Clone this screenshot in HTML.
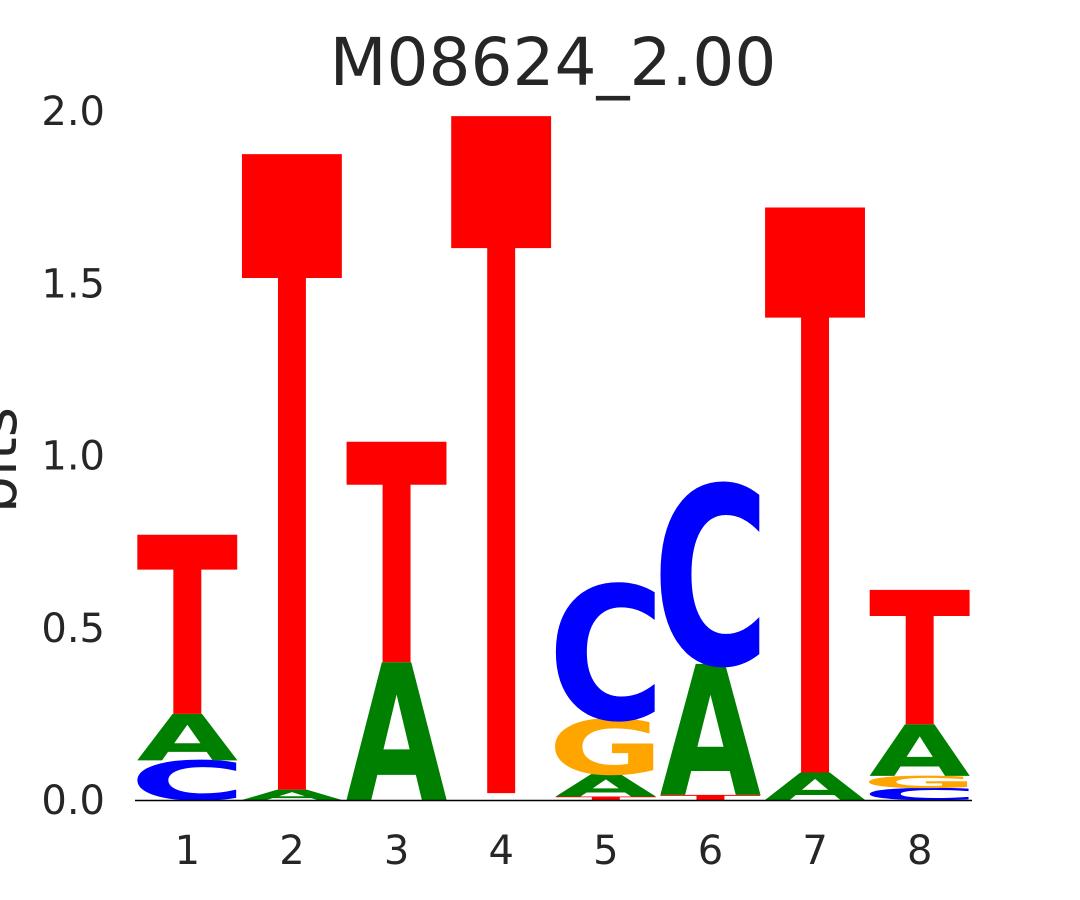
<!DOCTYPE html>
<html><head><meta charset="utf-8"><style>
html,body{margin:0;padding:0;background:#fff;width:1080px;height:900px;overflow:hidden}
svg{display:block}
svg text{font-family:"DejaVu Sans","Liberation Sans",sans-serif}
</style></head><body>
<svg id="chart" width="1080" height="900" viewBox="0 0 1080 900" xmlns="http://www.w3.org/2000/svg" overflow="hidden">
<text x="553" y="85" font-size="66" text-anchor="middle" fill="#262626">M08624_2.00</text>
<text transform="translate(16,460) rotate(-90)" font-size="58" text-anchor="middle" fill="#262626">bits</text>
<g id="yticks"></g><g id="xticks"></g><g id="letters"></g>
<line x1="135" y1="800.5" x2="972" y2="800.5" stroke="#000" stroke-width="1.5"/>
</svg>
<script>
const positions = ["1","2","3","4","5","6","7","8"];
const stackLetters = [
 ["C","A","T"],
 ["A","T"],
 ["A","T"],
 ["-","T"],
 ["T","A","G","C"],
 ["T","A","C"],
 ["A","T"],
 ["C","G","A","T"]
];
const stackHeights = [
 [0.115,0.135,0.52],
 [0.03,1.845],
 [0.40,0.64],
 [0.02,1.965],
 [0.01,0.065,0.16,0.39],
 [0.015,0.38,0.52],
 [0.08,1.64],
 [0.035,0.035,0.15,0.39]
];
const yTickValues = [0,0.5,1,1.5,2];
const yTickLabels = ["0.0","0.5","1.0","1.5","2.0"];
const colors = {A:"#008000",C:"#0000ff",G:"#ffa500",T:"#ff0000"};
const inkFrac = {A:0.98,C:0.85,G:0.86,T:0.98};
const leftFrac = {A:0.01,C:0.07,G:0.07,T:0.01};
const NS="http://www.w3.org/2000/svg";
const y = v => 800 - v*344.5;
const colW = (972-135)/positions.length;
const xc = i => 135 + colW*(i+0.5);
const yt=document.getElementById('yticks');
yTickValues.forEach((v,i)=>{
 const t=document.createElementNS(NS,'text');
 
 
 t.setAttribute('x',105);t.setAttribute('y',y(v)+14);
 t.setAttribute('font-size','40');t.setAttribute('text-anchor','end');t.setAttribute('fill','#262626');
 t.textContent=yTickLabels[i];yt.appendChild(t);
});
const xt=document.getElementById('xticks');
positions.forEach((p,i)=>{
 const t=document.createElementNS(NS,'text');
 
 
 t.setAttribute('x',xc(i));t.setAttribute('y',864);
 t.setAttribute('font-size','40');t.setAttribute('text-anchor','middle');t.setAttribute('fill','#262626');
 t.textContent=p;xt.appendChild(t);
});
const lg=document.getElementById('letters');
const fs=100, cap=72.9;
stackLetters.forEach((col,i)=>{
 let base=0;
 col.forEach((L,j)=>{
  const h=stackHeights[i][j];
  const y0=y(base), hpx=h*344.5;
  base+=h;
  if(hpx<0.5 || !colors[L]) return;
  const w=colW*0.95;
  const tl=w/inkFrac[L];
  const g=document.createElementNS(NS,'g');
  g.setAttribute('transform',`translate(${xc(i)-w/2-tl*leftFrac[L]},${y0}) scale(1,${hpx/cap})`);
  const t=document.createElementNS(NS,'text');
  
  
  t.setAttribute('x',0);t.setAttribute('y',0);
  t.setAttribute('font-size',fs);t.setAttribute('font-weight','bold');
  t.setAttribute('textLength',tl);t.setAttribute('lengthAdjust','spacingAndGlyphs');
  t.setAttribute('fill',colors[L]);
  t.textContent=L;g.appendChild(t);lg.appendChild(g);
 });
});
</script>
</body></html>
